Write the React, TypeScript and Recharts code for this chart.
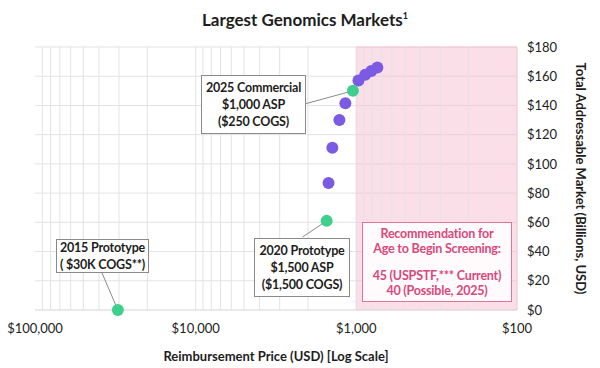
import React from "react";
import {
  ScatterChart, Scatter, XAxis, YAxis, CartesianGrid,
  ReferenceLine, ReferenceArea,
} from "recharts";

const FONT = "Lato, 'Noto Sans', sans-serif";
const GREEN = "#3fcf8c";
const PURPLE = "#7b5be3";

// milestones (green) and projected market points (purple): price USD, TAM $B
const MILESTONE_PRICE = [30500, 1530, 1050];
const MILESTONE_TAM = [0, 61, 150];
const PROJECTED_PRICE = [1490, 1410, 1275, 1170, 970, 880, 807, 740];
const PROJECTED_TAM = [87, 111, 130, 141.5, 157, 161, 163.5, 166];

const X_TICKS = [100000, 10000, 1000, 100];
const Y_TICKS = [0, 20, 40, 60, 80, 100, 120, 140, 160, 180];
const MINOR_X = [
  90000, 80000, 70000, 60000, 50000, 40000, 30000, 20000, 10000,
  9000, 8000, 7000, 6000, 5000, 4000, 3000, 2000, 1000,
  900, 800, 700, 600, 500, 400, 300, 200,
];

// leader lines from label boxes to the points (data units)
const CONNECTORS = [
  { from: [2100, 141], to: [1050, 150] },
  { from: [2160, 50], to: [1530, 61] },
  { from: [38300, 25.4], to: [30500, 0] },
];

const milestones = MILESTONE_PRICE.map((p, i) => ({ price: p, tam: MILESTONE_TAM[i] }));
const projected = PROJECTED_PRICE.map((p, i) => ({ price: p, tam: PROJECTED_TAM[i] }));

const dot = (color: string) => (props: any) => (
  <circle cx={props.cx} cy={props.cy} r={6} fill={color} />
);

const boxStyle: React.CSSProperties = {
  position: "absolute",
  background: "#fff",
  border: "1px solid #8a8a8a",
  boxSizing: "border-box",
  fontFamily: FONT,
  fontWeight: 700,
  fontSize: 12.5,
  letterSpacing: -0.2,
  whiteSpace: "nowrap",
  lineHeight: "17px",
  color: "#1d1d1d",
  textAlign: "center",
  display: "flex",
  flexDirection: "column",
  justifyContent: "center",
};

const App = () => {
  return (
    <div style={{ position: "absolute", left: 0, top: 0, width: 600, height: 368, background: "#fff", overflow: "hidden" }}>
      <div style={{ position: "absolute", left: 0, width: 610, top: 9, textAlign: "center", fontFamily: FONT, fontWeight: 700, fontSize: 17, color: "#1d1d1d" }}>
        Largest Genomics Markets<sup style={{ fontSize: 9 }}>1</sup>
      </div>
      <ScatterChart width={600} height={368} margin={{ top: 47, right: 23, bottom: 28, left: 35 }}>
        <CartesianGrid vertical={false} stroke="#e3e3e3" />
        {MINOR_X.map((v) => (
          <ReferenceLine key={v} x={v} stroke="#e3e3e3" />
        ))}
        <ReferenceArea x1={1000} x2={100} y1={0} y2={180} fill="#f7b9cc" fillOpacity={0.45} stroke="#f3c3d2" />
        <XAxis
          type="number" dataKey="price" scale="log" domain={[100, 100000]} reversed
          ticks={X_TICKS} allowDataOverflow axisLine={{ stroke: "#e3e3e3" }} tickLine={false} tickSize={0} tickMargin={14} height={30}
          tick={{ fontSize: 13, fill: "#222", fontFamily: FONT }}
          tickFormatter={(v: number) => "$" + v.toLocaleString("en-US")}
          label={{ value: "Reimbursement Price (USD) [Log Scale]", position: "bottom", offset: 12, style: { fontSize: 13, fontWeight: 700, fill: "#1d1d1d", fontFamily: FONT } }}
        />
        <YAxis
          type="number" dataKey="tam" orientation="right" domain={[0, 180]} ticks={Y_TICKS}
          axisLine={false} tickLine={false} tickSize={0} tickMargin={10} width={60}
          tick={{ fontSize: 13, fill: "#222", fontFamily: FONT, textAnchor: "start" }}
          tickFormatter={(v: number) => "$" + v}
          label={{ value: "Total Addressable Market (Billions, USD)", angle: 90, position: "right", offset: 4, style: { fontSize: 13, fontWeight: 700, fill: "#1d1d1d", fontFamily: FONT, textAnchor: "middle" } }}
        />
        {CONNECTORS.map((c, i) => (
          <ReferenceLine
            key={i}
            segment={[{ x: c.from[0], y: c.from[1] }, { x: c.to[0], y: c.to[1] }]}
            stroke="#8a8a8a"
          />
        ))}
        <Scatter data={projected} shape={dot(PURPLE)} isAnimationActive={false} />
        <Scatter data={milestones} shape={dot(GREEN)} isAnimationActive={false} />
      </ScatterChart>

      <div style={{ ...boxStyle, left: 201, top: 75, width: 105, height: 59 }}>
        <div>2025 Commercial</div>
        <div>$1,000 ASP</div>
        <div>($250 COGS)</div>
      </div>
      <div style={{ ...boxStyle, left: 254, top: 238, width: 96, height: 59 }}>
        <div>2020 Prototype</div>
        <div>$1,500 ASP</div>
        <div>($1,500 COGS)</div>
      </div>
      <div style={{ ...boxStyle, left: 56, top: 239, width: 93, height: 34 }}>
        <div>2015 Prototype</div>
        <div>( $30K COGS**)</div>
      </div>
      <div style={{ ...boxStyle, left: 362, top: 222, width: 150, height: 80, border: "1px solid #e07597", color: "#d9487b", background: "#fffafc", lineHeight: "15px" }}>
        <div>Recommendation for</div>
        <div>Age to Begin Screening:</div>
        <div style={{ height: 12 }} />
        <div>45 (USPSTF,*** Current)</div>
        <div>40 (Possible, 2025)</div>
      </div>
    </div>
  );
};

export default App;
